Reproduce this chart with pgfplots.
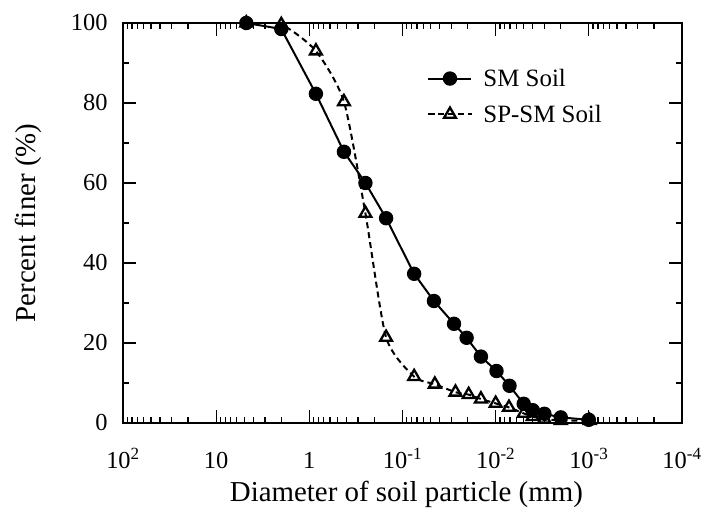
\documentclass[border=0pt]{standalone}
\usepackage{fontspec}
\setmainfont{Liberation Serif}
\usepackage{pgfplots}
\pgfplotsset{compat=1.18}
\begin{document}
\begin{tikzpicture}
\path[use as bounding box] (-123bp,-87bp) rectangle (592bp,423bp);
\begin{axis}[
  name=ax, at={(0,0)}, anchor=south west,
  scale only axis, width=559bp, height=400bp,
  xmode=log, x dir=reverse,
  xmin=1e-4, xmax=1e2, ymin=0, ymax=100,
  xtick={1e-4,1e-3,1e-2,1e-1,1,10,100},
  xticklabels={10\textsuperscript{-4},10\textsuperscript{-3},10\textsuperscript{-2},10\textsuperscript{-1},1,10,10\textsuperscript{2}},
  ytick={0,20,40,60,80,100},
  minor y tick num=1,
  major tick length=13bp, minor tick length=6.5bp,
  every tick/.style={black, line width=1.3bp},
  axis line style={line width=1.7bp},
  tick label style={font=\fontsize{24.5}{28}\selectfont},
  yticklabel style={xshift=-12bp},
  xticklabel style={anchor=north, text height=17bp, text depth=5bp, yshift=-25bp},
  /pgf/number format/assume math mode=true,
  xlabel={Diameter of soil particle (mm)},
  ylabel={Percent finer (\%)},
  every axis x label/.style={at={(axis description cs:0.507,-0.1775)}, anchor=center, font=\fontsize{29}{34}\selectfont},
  every axis y label/.style={at={(axis description cs:-0.170,0.5)}, rotate=90, anchor=center, font=\fontsize{29}{34}\selectfont},
  legend style={draw=none, fill=none, font=\fontsize{25}{30}\selectfont,
    at={(axis description cs:0.539,0.895)}, anchor=north west, row sep=13bp, column sep=9bp},
  legend cell align=left,
  legend image code/.code={%
    \draw[mark repeat=2,mark phase=2,#1] plot coordinates {(-6bp,0bp) (15.5bp,0bp) (37bp,0bp)};},
]
\addplot[black, line width=2bp, mark=*, mark size=6.2bp, mark options={solid, fill=black}] coordinates {
(4.75,100) (2.0,98.5) (0.85,82.3) (0.425,67.8) (0.25,60.0) (0.15,51.2) (0.075,37.3)
(0.046,30.5) (0.028,24.8) (0.0205,21.3) (0.0144,16.6) (0.0098,13.0) (0.0071,9.3)
(0.0050,4.8) (0.0040,3.2) (0.0030,2.3) (0.0020,1.4) (0.0010,0.8)
};
\addlegendentry{SM Soil}
\addplot[black, line width=2bp, dash pattern=on 6bp off 4bp, smooth, tension=0.4, mark=triangle, mark size=6.8bp, mark options={solid, fill=white, line width=2.3bp}] coordinates {
(4.75,100) (2.0,99.6) (0.85,93.0) (0.425,80.3) (0.25,52.4) (0.15,21.4) (0.075,11.6)
(0.045,9.7) (0.027,7.7) (0.0195,7.1) (0.0144,6.0) (0.0100,4.9) (0.0072,3.9)
(0.0050,2.4) (0.0040,1.6) (0.0030,1.0) (0.0020,0.6) (0.00098,0.6)
};
\addlegendentry{SP-SM Soil}
\end{axis}
\end{tikzpicture}
\end{document}
